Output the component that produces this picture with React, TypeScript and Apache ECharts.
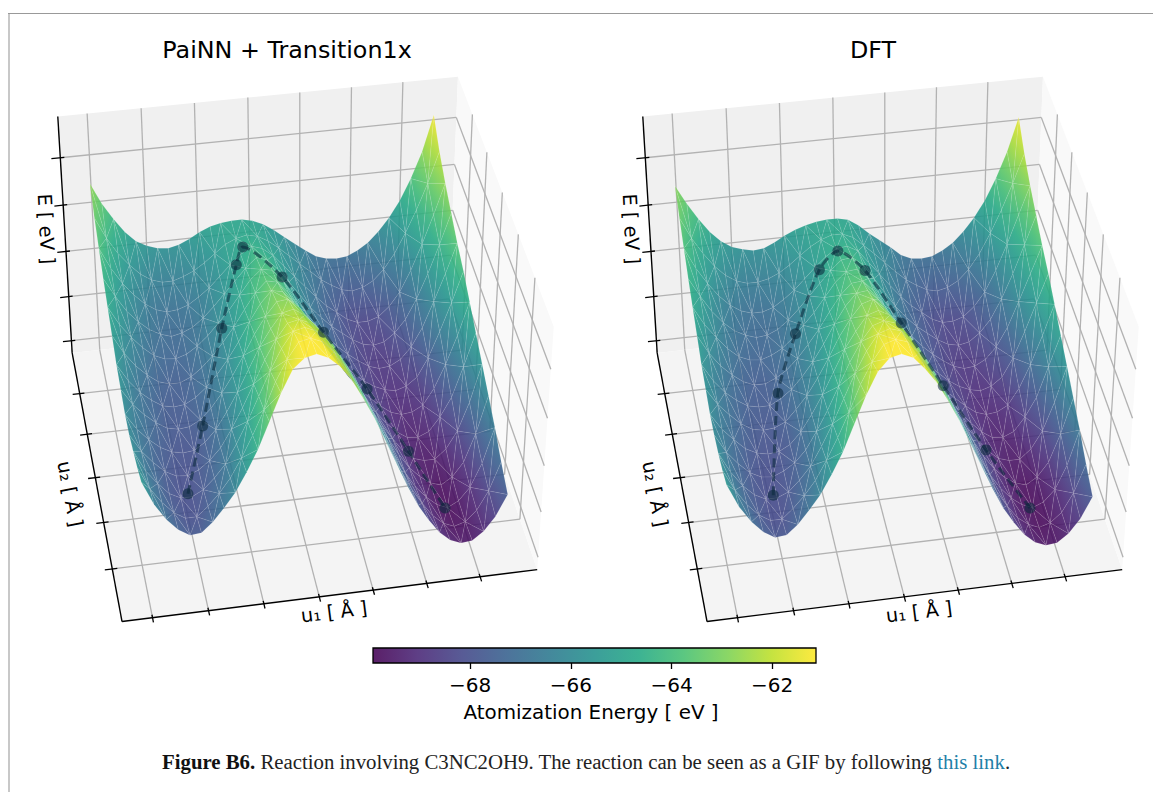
import React, { useEffect, useRef } from "react";
import * as echarts from "echarts";

// ---------- data ----------
const titles = ["PaiNN + Transition1x", "DFT"];
const colorbarTicks = [-68, -66, -64, -62];
const colorMin = -69.93;
const colorMax = -61.13;
const zBottom = -70.56;
const zTop = -60.3;
const viridisStops = ["#440154", "#482475", "#414487", "#355f8d", "#2a788e", "#21918c", "#22a884", "#44bf70", "#7ad151", "#bddf26", "#fde725"];

// normalised positions inside the 3D box
const u1Nodes = [0.065, 0.092, 0.119, 0.146, 0.173, 0.2, 0.227, 0.254, 0.281, 0.308, 0.335, 0.362, 0.389, 0.416, 0.443, 0.47, 0.497, 0.524, 0.551, 0.578, 0.606, 0.633, 0.66, 0.687, 0.714, 0.741, 0.768, 0.795, 0.822, 0.849, 0.876, 0.903, 0.93];
const u2Nodes = [0.05, 0.125, 0.2, 0.275, 0.35, 0.425, 0.5, 0.575, 0.65, 0.725, 0.8, 0.875, 0.95];
const u1Ticks = [0.072, 0.205, 0.337, 0.47, 0.6, 0.73, 0.86];
const u2Ticks = [0.18, 0.345, 0.51, 0.675, 0.835];
const zTicks = [-70, -68, -66, -64, -62];

// energy per u2 row (front to back), per u1 node
const painnEnergy = [
  [-65.3, -66.3, -67.0, -67.5, -67.8, -67.75, -67.35, -66.8, -66.2, -65.4, -64.5, -63.4, -62.3, -61.4, -61.0, -60.9, -61.1, -61.5, -62.1, -62.9, -63.8, -64.8, -65.8, -66.8, -67.7, -68.4, -69.0, -69.4, -69.6, -69.55, -69.2, -68.6, -67.7],
  [-65.6, -66.55, -67.2, -67.7, -68.0, -68.0, -67.6, -67.1, -66.5, -65.7, -64.8, -63.8, -62.7, -61.85, -61.2, -61.1, -61.3, -61.75, -62.4, -63.2, -64.1, -65.1, -66.1, -67.05, -67.9, -68.6, -69.2, -69.6, -69.8, -69.65, -69.2, -68.4, -67.2],
  [-65.8, -66.7, -67.3, -67.8, -68.05, -68.05, -67.8, -67.35, -66.8, -66.0, -65.1, -64.1, -63.1, -62.25, -61.6, -61.5, -61.7, -62.15, -62.8, -63.55, -64.4, -65.35, -66.3, -67.25, -68.1, -68.8, -69.3, -69.7, -69.9, -69.65, -69.1, -68.1, -66.6],
  [-66.0, -66.75, -67.3, -67.75, -68.0, -68.05, -67.85, -67.5, -67.0, -66.25, -65.4, -64.45, -63.5, -62.7, -62.1, -62.0, -62.2, -62.6, -63.2, -63.95, -64.8, -65.7, -66.6, -67.45, -68.2, -68.85, -69.3, -69.65, -69.8, -69.5, -68.9, -67.7, -66.1],
  [-66.0, -66.7, -67.2, -67.6, -67.85, -67.95, -67.9, -67.6, -67.1, -66.4, -65.6, -64.7, -63.8, -63.1, -62.5, -62.4, -62.7, -63.2, -63.8, -64.5, -65.3, -66.15, -67.0, -67.75, -68.4, -69.0, -69.4, -69.55, -69.55, -69.15, -68.4, -67.2, -65.6],
  [-65.8, -66.5, -67.0, -67.4, -67.7, -67.8, -67.75, -67.5, -67.05, -66.45, -65.75, -64.95, -64.1, -63.4, -62.85, -62.8, -63.2, -63.8, -64.5, -65.2, -65.9, -66.65, -67.4, -68.05, -68.6, -69.05, -69.35, -69.4, -69.2, -68.6, -67.8, -66.5, -65.1],
  [-65.6, -66.35, -66.9, -67.3, -67.6, -67.7, -67.65, -67.4, -67.0, -66.5, -65.9, -65.2, -64.4, -63.7, -63.2, -63.3, -63.8, -64.5, -65.2, -65.9, -66.6, -67.25, -67.8, -68.3, -68.7, -69.05, -69.2, -69.15, -68.9, -68.2, -67.2, -66.0, -64.6],
  [-65.2, -66.0, -66.6, -67.05, -67.4, -67.55, -67.55, -67.35, -67.0, -66.55, -66.0, -65.4, -64.7, -64.05, -63.6, -63.7, -64.2, -64.9, -65.6, -66.3, -67.0, -67.55, -68.0, -68.4, -68.7, -68.9, -69.0, -68.85, -68.5, -67.7, -66.6, -65.4, -64.1],
  [-64.8, -65.6, -66.2, -66.7, -67.1, -67.3, -67.35, -67.2, -66.9, -66.5, -66.0, -65.5, -64.9, -64.3, -63.9, -64.0, -64.5, -65.2, -65.9, -66.55, -67.1, -67.6, -68.0, -68.35, -68.65, -68.8, -68.75, -68.5, -68.0, -67.2, -66.1, -64.95, -63.7],
  [-64.4, -65.2, -65.9, -66.4, -66.8, -67.05, -67.2, -67.1, -66.9, -66.55, -66.1, -65.6, -65.1, -64.6, -64.2, -64.35, -64.8, -65.4, -66.0, -66.6, -67.1, -67.55, -67.9, -68.25, -68.5, -68.6, -68.5, -68.15, -67.6, -66.75, -65.7, -64.5, -63.2],
  [-63.9, -64.8, -65.5, -66.05, -66.5, -66.8, -66.95, -66.9, -66.75, -66.45, -66.1, -65.65, -65.2, -64.8, -64.5, -64.65, -65.0, -65.5, -66.0, -66.5, -67.0, -67.45, -67.8, -68.15, -68.35, -68.35, -68.2, -67.8, -67.2, -66.3, -65.2, -64.0, -62.7],
  [-63.4, -64.3, -65.0, -65.55, -66.0, -66.3, -66.45, -66.45, -66.3, -66.1, -65.8, -65.45, -65.1, -64.9, -64.8, -64.9, -65.15, -65.5, -65.9, -66.3, -66.7, -67.1, -67.4, -67.65, -67.75, -67.65, -67.4, -66.95, -66.3, -65.45, -64.5, -63.4, -62.1],
  [-62.7, -63.6, -64.3, -64.9, -65.35, -65.6, -65.75, -65.8, -65.7, -65.5, -65.25, -65.05, -64.95, -64.9, -64.9, -65.0, -65.2, -65.5, -65.85, -66.2, -66.55, -66.85, -67.0, -67.05, -67.0, -66.8, -66.5, -66.05, -65.5, -64.8, -63.9, -62.8, -61.3],
];
const dftEnergy = [
  [-65.4, -66.4, -67.1, -67.6, -67.9, -67.85, -67.45, -66.9, -66.3, -65.5, -64.6, -63.5, -62.4, -61.5, -61.0, -60.9, -61.1, -61.6, -62.2, -63.0, -63.9, -64.9, -65.9, -66.9, -67.8, -68.5, -69.1, -69.5, -69.7, -69.65, -69.3, -68.7, -67.8],
  [-65.7, -66.6, -67.3, -67.8, -68.1, -68.1, -67.7, -67.2, -66.6, -65.8, -64.9, -63.9, -62.8, -61.95, -61.3, -61.15, -61.3, -61.8, -62.5, -63.3, -64.2, -65.2, -66.2, -67.15, -68.0, -68.7, -69.3, -69.65, -69.85, -69.7, -69.3, -68.5, -67.3],
  [-65.9, -66.75, -67.4, -67.85, -68.1, -68.1, -67.9, -67.45, -66.9, -66.1, -65.2, -64.2, -63.2, -62.35, -61.7, -61.55, -61.7, -62.2, -62.9, -63.65, -64.5, -65.45, -66.4, -67.35, -68.2, -68.85, -69.35, -69.7, -69.9, -69.7, -69.2, -68.2, -66.7],
  [-66.0, -66.8, -67.35, -67.8, -68.05, -68.1, -67.9, -67.6, -67.1, -66.35, -65.5, -64.55, -63.6, -62.8, -62.2, -62.05, -62.2, -62.65, -63.3, -64.05, -64.9, -65.8, -66.7, -67.55, -68.3, -68.9, -69.35, -69.65, -69.8, -69.5, -68.9, -67.7, -66.2],
  [-66.0, -66.7, -67.2, -67.65, -67.9, -68.0, -67.95, -67.7, -67.2, -66.5, -65.7, -64.8, -63.9, -63.2, -62.6, -62.45, -62.7, -63.2, -63.8, -64.6, -65.4, -66.25, -67.1, -67.85, -68.45, -69.0, -69.4, -69.55, -69.55, -69.15, -68.4, -67.2, -65.7],
  [-65.8, -66.5, -67.0, -67.45, -67.75, -67.85, -67.8, -67.6, -67.1, -66.55, -65.85, -65.05, -64.2, -63.5, -62.95, -62.8, -63.2, -63.8, -64.5, -65.25, -66.0, -66.75, -67.45, -68.1, -68.6, -69.05, -69.35, -69.4, -69.2, -68.6, -67.8, -66.5, -65.2],
  [-65.6, -66.35, -66.9, -67.3, -67.6, -67.7, -67.7, -67.45, -67.1, -66.6, -66.0, -65.3, -64.5, -63.8, -63.3, -63.25, -63.7, -64.4, -65.1, -65.85, -66.6, -67.25, -67.85, -68.3, -68.7, -69.05, -69.2, -69.15, -68.9, -68.2, -67.2, -66.0, -64.7],
  [-65.2, -66.0, -66.6, -67.05, -67.4, -67.6, -67.6, -67.4, -67.1, -66.65, -66.1, -65.5, -64.8, -64.15, -63.7, -63.65, -64.1, -64.8, -65.5, -66.25, -67.0, -67.55, -68.0, -68.4, -68.7, -68.9, -69.0, -68.85, -68.5, -67.7, -66.6, -65.4, -64.2],
  [-64.8, -65.6, -66.2, -66.75, -67.15, -67.35, -67.4, -67.25, -67.0, -66.6, -66.1, -65.6, -65.0, -64.4, -64.0, -63.95, -64.4, -65.1, -65.8, -66.5, -67.1, -67.6, -68.0, -68.35, -68.65, -68.8, -68.75, -68.5, -68.0, -67.2, -66.1, -64.95, -63.8],
  [-64.4, -65.2, -65.9, -66.45, -66.85, -67.1, -67.25, -67.2, -67.0, -66.65, -66.2, -65.7, -65.2, -64.7, -64.3, -64.25, -64.6, -65.25, -65.9, -66.55, -67.1, -67.55, -67.9, -68.25, -68.5, -68.6, -68.5, -68.15, -67.6, -66.75, -65.7, -64.5, -63.3],
  [-63.9, -64.8, -65.5, -66.1, -66.55, -66.85, -67.0, -67.0, -66.85, -66.55, -66.2, -65.75, -65.3, -64.9, -64.6, -64.55, -64.8, -65.35, -65.9, -66.45, -67.0, -67.45, -67.8, -68.15, -68.35, -68.35, -68.2, -67.8, -67.2, -66.3, -65.2, -64.0, -62.8],
  [-63.4, -64.3, -65.0, -65.6, -66.05, -66.35, -66.5, -66.5, -66.4, -66.2, -65.9, -65.55, -65.2, -64.95, -64.8, -64.8, -65.0, -65.4, -65.8, -66.25, -66.7, -67.1, -67.4, -67.65, -67.75, -67.65, -67.4, -66.95, -66.3, -65.45, -64.5, -63.4, -62.2],
  [-62.8, -63.6, -64.3, -64.9, -65.35, -65.65, -65.8, -65.9, -65.85, -65.65, -65.4, -65.2, -65.05, -64.95, -64.9, -64.9, -65.0, -65.3, -65.7, -66.05, -66.4, -66.8, -67.0, -67.05, -67.0, -66.8, -66.5, -66.05, -65.5, -64.8, -63.9, -62.8, -61.4],
];

// minimum energy path: u1, u2 (box fractions) and energy
const painnPathU1 = [0.19, 0.254, 0.339, 0.4, 0.423, 0.508, 0.596, 0.682, 0.754, 0.816];
const painnPathU2 = [0.2, 0.385, 0.62, 0.77, 0.81, 0.73, 0.64, 0.51, 0.346, 0.2];
const painnPathE = [-67.9, -67.3, -65.9, -64.9, -64.6, -65.2, -66.8, -68.0, -69.0, -69.9];
const dftPathU1 = [0.19, 0.25, 0.317, 0.395, 0.445, 0.504, 0.58, 0.661, 0.737, 0.816];
const dftPathU2 = [0.195, 0.517, 0.665, 0.77, 0.79, 0.738, 0.653, 0.517, 0.354, 0.2];
const dftPathE = [-67.9, -67.4, -66.6, -65.1, -64.6, -65.0, -66.5, -67.9, -69.0, -69.9];

// ---------- camera calibration of the box ----------
const boxCorners: number[][] = [
  [0, 0, 0, 122, 622],
  [1, 0, 0, 537, 569],
  [1, 1, 0, 449, 312],
  [0, 1, 0, 72, 352],
  [0, 1, 1, 58, 117],
  [1, 1, 1, 457.5, 76],
  [1, 0, 1, 554, 327],
];
const PANEL_OFFSET = 585;

function solveCamera(): number[] {
  const rows: number[][] = [];
  const rhs: number[] = [];
  for (const [x, y, z, sx0, sy0] of boxCorners) {
    const sx = sx0 / 500;
    const sy = sy0 / 500;
    rows.push([x, y, z, 1, 0, 0, 0, 0, -sx * x, -sx * y, -sx * z]);
    rhs.push(sx);
    rows.push([0, 0, 0, 0, x, y, z, 1, -sy * x, -sy * y, -sy * z]);
    rhs.push(sy);
  }
  const n = 11;
  const m: number[][] = [];
  for (let a = 0; a < n; a++) {
    const row: number[] = [];
    for (let b = 0; b < n; b++) {
      let s = 0;
      rows.forEach((r) => (s += r[a] * r[b]));
      row.push(s);
    }
    let s = 0;
    rows.forEach((r, k) => (s += r[a] * rhs[k]));
    row.push(s);
    m.push(row);
  }
  for (let c = 0; c < n; c++) {
    let piv = c;
    for (let r = c + 1; r < n; r++) if (Math.abs(m[r][c]) > Math.abs(m[piv][c])) piv = r;
    [m[c], m[piv]] = [m[piv], m[c]];
    for (let r = 0; r < n; r++) {
      if (r === c) continue;
      const f = m[r][c] / m[c][c];
      for (let k = c; k <= n; k++) m[r][k] -= f * m[c][k];
    }
  }
  return m.map((r, i) => r[n] / r[i]);
}
const cam = solveCamera();

function project(x: number, y: number, z: number, dx = 0): [number, number] {
  const w = cam[8] * x + cam[9] * y + cam[10] * z + 1;
  const sx = ((cam[0] * x + cam[1] * y + cam[2] * z + cam[3]) / w) * 500;
  const sy = ((cam[4] * x + cam[5] * y + cam[6] * z + cam[7]) / w) * 500;
  return [sx + dx, sy];
}
const zOf = (e: number) => (e - zBottom) / (zTop - zBottom);

function hexRgb(h: string) {
  return [1, 3, 5].map((i) => parseInt(h.slice(i, i + 2), 16));
}
function viridis(e: number) {
  const t = Math.min(1, Math.max(0, (e - colorMin) / (colorMax - colorMin))) * (viridisStops.length - 1);
  const i = Math.min(viridisStops.length - 2, Math.floor(t));
  const a = hexRgb(viridisStops[i]);
  const b = hexRgb(viridisStops[i + 1]);
  const f = t - i;
  return `rgb(${a.map((v, k) => Math.round(v + (b[k] - v) * f)).join(",")})`;
}

type Vert = { p: [number, number]; e: number };
function triangles(energy: number[][], dx: number): Vert[][] {
  const out: Vert[][] = [];
  const v = (i: number, j: number): Vert => ({
    p: project(u1Nodes[i], u2Nodes[j], zOf(energy[j][i]), dx),
    e: energy[j][i],
  });
  const order = u1Nodes.slice(0, -1).map((_, i) => i).sort((a, b) => Math.abs(b - 14) - Math.abs(a - 14));
  for (let j = u2Nodes.length - 2; j >= 0; j--) {
    for (const i of order) {
      const a = v(i, j), b = v(i + 1, j), c = v(i + 1, j + 1), d = v(i, j + 1);
      if ((i + j) % 2 === 0) out.push([a, b, c], [a, c, d]);
      else out.push([a, b, d], [b, c, d]);
    }
  }
  return out;
}

function triangleFill(t: Vert[]) {
  const [a, b, c] = t;
  const x1 = b.p[0] - a.p[0], y1 = b.p[1] - a.p[1], x2 = c.p[0] - a.p[0], y2 = c.p[1] - a.p[1];
  const e1 = b.e - a.e, e2 = c.e - a.e;
  const det = x1 * y2 - x2 * y1;
  const mean = (a.e + b.e + c.e) / 3;
  const lo = t.reduce((m, v) => (v.e < m.e ? v : m), a);
  const hi = t.reduce((m, v) => (v.e > m.e ? v : m), a);
  if (Math.abs(det) < 1 || hi.e - lo.e < 0.02) return viridis(mean);
  const gx = (e1 * y2 - e2 * y1) / det;
  const gy = (x1 * e2 - x2 * e1) / det;
  const g2 = gx * gx + gy * gy;
  const span = hi.e - lo.e;
  const ex = lo.p[0] + (gx * span) / g2;
  const ey = lo.p[1] + (gy * span) / g2;
  const stops = [0, 0.5, 1].map((f) => ({ offset: f, color: viridis(lo.e + span * f) }));
  return new echarts.graphic.LinearGradient(lo.p[0], lo.p[1], ex, ey, stops, true);
}

function surfaceSeries(name: string, energy: number[][], dx: number) {
  const tris = triangles(energy, dx);
  return {
    name,
    type: "custom",
    xAxisIndex: 0,
    yAxisIndex: 0,
    clip: false,
    silent: true,
    z: 3,
    data: tris.map((t) => [t[0].p[0], t[0].p[1], (t[0].e + t[1].e + t[2].e) / 3]),
    renderItem: (params: any) => {
      const t = tris[params.dataIndex];
      return {
        type: "polygon",
        silent: true,
        shape: { points: t.map((v) => v.p) },
        style: { fill: triangleFill(t), stroke: "rgba(255,255,255,0.2)", lineWidth: 0.5, opacity: 0.88 },
      };
    },
  };
}

function frameSeries(dx: number) {
  const P = (x: number, y: number, z: number) => project(x, y, z, dx);
  const pane = (pts: number[][], fill: string) => ({
    type: "polygon",
    shape: { points: pts.map((q) => P(q[0], q[1], q[2])) },
    style: { fill },
  });
  const seg = (a: number[], b: number[], stroke: string, lineWidth: number) => {
    const p = P(a[0], a[1], a[2]);
    const q = P(b[0], b[1], b[2]);
    return { type: "line", shape: { x1: p[0], y1: p[1], x2: q[0], y2: q[1] }, style: { stroke, lineWidth } };
  };
  const grid = "#b2b2b2";
  const zt = zTicks.map(zOf);
  const children: any[] = [
    pane([[0, 1, 0], [1, 1, 0], [1, 1, 1], [0, 1, 1]], "#f0f0f0"),
    pane([[0, 0, 0], [1, 0, 0], [1, 1, 0], [0, 1, 0]], "#f4f4f4"),
    pane([[1, 0, 0], [1, 1, 0], [1, 1, 1], [1, 0, 1]], "#f9f9f9"),
  ];
  for (const x of u1Ticks) {
    children.push(seg([x, 0, 0], [x, 1, 0], grid, 1.3), seg([x, 1, 0], [x, 1, 1], grid, 1.3));
  }
  for (const y of u2Ticks) {
    children.push(seg([0, y, 0], [1, y, 0], grid, 1.3), seg([1, y, 0], [1, y, 1], grid, 1.3));
  }
  for (const z of zt) {
    children.push(seg([0, 1, z], [1, 1, z], grid, 1.3), seg([1, 1, z], [1, 0, z], grid, 1.3));
  }
  children.push(
    seg([0, 1, 0], [0, 1, 1], "#000", 1.4),
    seg([0, 0, 0], [0, 1, 0], "#000", 1.4),
    seg([0, 0, 0], [1, 0, 0], "#000", 1.4)
  );
  for (const z of zt) children.push(seg([-0.022, 1, z], [0.01, 1, z], "#000", 1.3));
  for (const y of u2Ticks) children.push(seg([-0.018, y, 0], [0.012, y, 0], "#000", 1.3));
  for (const x of u1Ticks) children.push(seg([x, -0.016, 0], [x, 0.01, 0], "#000", 1.3));
  return {
    type: "custom",
    xAxisIndex: 0,
    yAxisIndex: 0,
    clip: false,
    silent: true,
    z: 2,
    data: [[0, 0]],
    renderItem: () => ({ type: "group", silent: true, children }),
  };
}

function pathSeries(name: string, u1: number[], u2: number[], e: number[], dx: number) {
  return {
    name,
    type: "line",
    xAxisIndex: 0,
    yAxisIndex: 0,
    z: 4,
    smooth: 0.25,
    symbol: "circle",
    symbolSize: 11,
    silent: true,
    itemStyle: { color: "#0a2a3c", opacity: 0.58 },
    lineStyle: { color: "#0a2a3c", opacity: 0.58, width: 3, type: [9, 5] },
    data: u1.map((x, i) => project(x, u2[i], zOf(e[i]), dx)),
  };
}

const label = (text: string, x: number, y: number, rotation: number, size: number) => ({
  type: "text",
  x,
  y,
  rotation,
  silent: true,
  style: {
    text,
    x: 0,
    y: 0,
    align: "center",
    verticalAlign: "middle",
    fill: "#000",
    font: `${size}px "DejaVu Sans"`,
  },
});

export default function App() {
  const ref = useRef<HTMLDivElement>(null);
  useEffect(() => {
    document.body.style.margin = "0";
    const chart = echarts.init(ref.current!, undefined, { renderer: "svg" });
    const axisLabels: any[] = [];
    [0, PANEL_OFFSET].forEach((dx) => {
      axisLabels.push(
        label("E [ eV ]", 46 + dx, 229, -1.52, 19.3),
        label("u\u2082 [ \u00c5 ]", 70 + dx, 494, -1.38, 19.3),
        label("u\u2081 [ \u00c5 ]", 334 + dx, 612, 0.125, 19.3)
      );
    });
    chart.setOption({
      animation: false,
      backgroundColor: "#fff",
      grid: [
        { left: 0, top: 0, width: 1153, height: 792, show: false },
        { left: 373, top: 648, width: 443, height: 15, show: true, borderColor: "#000", borderWidth: 1.3, z: 5 },
      ],
      xAxis: [
        { type: "value", gridIndex: 0, min: 0, max: 1153, show: false },
        {
          type: "value",
          gridIndex: 1,
          min: colorMin,
          max: colorMax,
          position: "bottom",
          splitLine: { show: false },
          axisLine: { show: false },
          axisTick: { show: true, length: 6, customValues: colorbarTicks, lineStyle: { color: "#000", width: 1.3 } },
          axisLabel: {
            show: true,
            customValues: colorbarTicks,
            formatter: (v: number) => `\u2212${Math.abs(v)}`,
            color: "#000",
            fontFamily: "DejaVu Sans",
            fontSize: 20,
            margin: 12,
          },
        },
      ],
      yAxis: [
        { type: "value", gridIndex: 0, min: 0, max: 792, inverse: true, show: false },
        { type: "value", gridIndex: 1, min: 0, max: 1, show: false },
      ],
      series: [
        frameSeries(0),
        frameSeries(PANEL_OFFSET),
        surfaceSeries("PaiNN surface", painnEnergy, 0),
        surfaceSeries("DFT surface", dftEnergy, PANEL_OFFSET),
        pathSeries("PaiNN path", painnPathU1, painnPathU2, painnPathE, 0),
        pathSeries("DFT path", dftPathU1, dftPathU2, dftPathE, PANEL_OFFSET),
        {
          type: "custom",
          xAxisIndex: 1,
          yAxisIndex: 1,
          silent: true,
          z: 3,
          data: [[colorMin, 0, colorMax, 1]],
          encode: { x: [0, 2], y: [1, 3] },
          renderItem: (_: any, api: any) => {
            const a = api.coord([api.value(0), api.value(1)]);
            const b = api.coord([api.value(2), api.value(3)]);
            return {
              type: "rect",
              shape: { x: a[0], y: b[1], width: b[0] - a[0], height: a[1] - b[1] },
              style: {
                opacity: 0.88,
                fill: new echarts.graphic.LinearGradient(
                  0, 0, 1, 0,
                  viridisStops.map((color, i) => ({ offset: i / (viridisStops.length - 1), color }))
                ),
              },
            };
          },
        },
      ],
      graphic: [
        { type: "rect", silent: true, shape: { x: 8, y: 13, width: 1145, height: 1 }, style: { fill: "#999" } },
        { type: "rect", silent: true, shape: { x: 8, y: 14, width: 2, height: 778 }, style: { fill: "#c8c8c8" } },
        label(titles[0], 287, 50, 0, 23.8),
        label(titles[1], 873, 50, 0, 23.8),
        ...axisLabels,
        label("Atomization Energy [ eV ]", 591, 712, 0, 19.9),
        {
          type: "text",
          x: 162,
          y: 761,
          silent: true,
          style: {
            text: "{b|Figure B6.}{n| Reaction involving C3NC2OH9. The reaction can be seen as a GIF by following }{l|this link}{n|.}",
            verticalAlign: "middle",
            rich: {
              b: { fontFamily: "Liberation Serif", fontWeight: "bold", fontSize: 20.8, fill: "#111" },
              n: { fontFamily: "Liberation Serif", fontSize: 20.8, fill: "#222" },
              l: { fontFamily: "Liberation Serif", fontSize: 20.8, fill: "#1f7fa8" },
            },
          },
        },
      ],
    });
    return () => chart.dispose();
  }, []);
  return <div ref={ref} style={{ position: "fixed", left: 0, top: 0, width: 1153, height: 792 }} />;
}
